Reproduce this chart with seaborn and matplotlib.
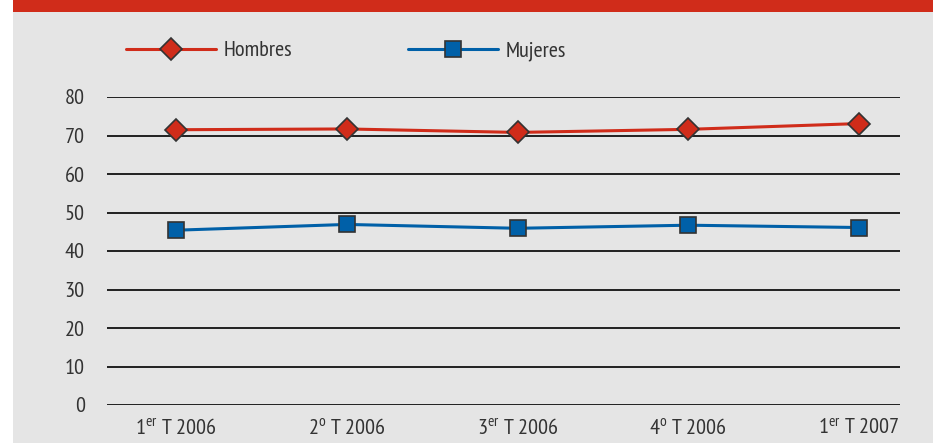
import matplotlib
matplotlib.use("Agg")
import matplotlib.pyplot as plt
import seaborn as sns
import pandas as pd
from matplotlib.patches import Rectangle
from matplotlib import font_manager

categories = [r"1$^{\mathrm{er}}$ T 2006", r"2$^{\mathrm{o}}$ T 2006", r"3$^{\mathrm{er}}$ T 2006",
              r"4$^{\mathrm{o}}$ T 2006", r"1$^{\mathrm{er}}$ T 2007"]
hombres = [71.5, 71.7, 70.8, 71.6, 73.1]
mujeres = [45.4, 46.9, 45.9, 46.7, 46.1]
yticks = [0, 10, 20, 30, 40, 50, 60, 70, 80]

sns.set_theme(style="white")
names = {f.name for f in font_manager.fontManager.ttflist}
prefs = ["PT Sans Narrow", "Fira Sans Condensed", "Open Sans Condensed", "Roboto Condensed",
         "Asap Condensed", "Barlow Semi Condensed", "Archivo Narrow", "Cabin Condensed",
         "DejaVu Sans"]
fam = next(p for p in prefs if p in names)
plt.rcParams['font.family'] = [fam, 'DejaVu Sans']
plt.rcParams['mathtext.fontset'] = 'custom'
plt.rcParams['mathtext.rm'] = fam
plt.rcParams['mathtext.it'] = fam

W, H = 933, 443
FS = 16
fig = plt.figure(figsize=(W/100, H/100), dpi=100, facecolor="white")
fig.patches.append(Rectangle((13/W, 0), 1 - 13/W, 1, transform=fig.transFigure,
                             facecolor="#e5e5e5", edgecolor="none", zorder=-10))
fig.patches.append(Rectangle((13/W, 1 - 12/H), 1 - 13/W, 12/H, transform=fig.transFigure,
                             facecolor="#d02c1a", edgecolor="none", zorder=-9))

ax = fig.add_axes([107/W, (H-405)/H, (900-107)/W, (405-97)/H])
ax.set_facecolor("none")

df = pd.DataFrame({
    "x": list(range(len(categories))) * 2,
    "valor": hombres + mujeres,
    "serie": ["Hombres"] * len(categories) + ["Mujeres"] * len(categories),
})
red = "#d02c1a"
blue = "#0060a8"
sns.lineplot(data=df, x="x", y="valor", hue="serie", style="serie",
             palette={"Hombres": red, "Mujeres": blue},
             markers={"Hombres": "D", "Mujeres": "s"}, dashes=False,
             markersize=12, markeredgecolor="#333333", markeredgewidth=1.2,
             linewidth=2.2, ax=ax, clip_on=False, zorder=3)
for ln in ax.lines:
    if ln.get_marker() == "D":
        ln.set_markersize(11)

ax.set_xlim(-0.404, 4.24)
ax.set_ylim(0, 80)
ax.set_yticks(yticks)
ax.set_yticklabels([str(v) for v in yticks])
ax.set_xticks(range(len(categories)))
ax.set_xticklabels(categories)
for y in yticks:
    ax.axhline(y, color="#111111", linewidth=1.3, zorder=1)
for s in ax.spines.values():
    s.set_visible(False)
ax.tick_params(axis="both", length=0, labelsize=FS, colors="#333333")
ax.tick_params(axis="y", pad=16)
ax.tick_params(axis="x", pad=9)
ax.set_xlabel("")
ax.set_ylabel("")

leg = ax.legend(loc="center left", bbox_to_anchor=((117-107)/(900-107), (405-51)/(405-97)),
                ncol=2, frameon=False, fontsize=FS, handlelength=4.05,
                handletextpad=0.36, columnspacing=5.2, borderaxespad=0)
for t in leg.get_texts():
    t.set_color("#333333")

fig.savefig("out.png", dpi=100, facecolor=fig.get_facecolor())
